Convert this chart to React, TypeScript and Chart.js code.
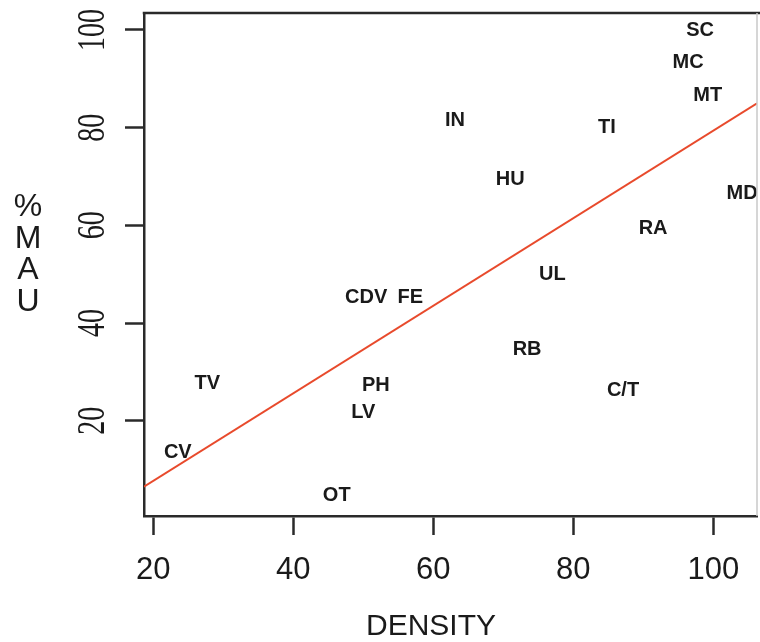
import React, { useEffect, useRef } from "react";
import { Chart, registerables } from "chart.js";

Chart.register(...registerables);

// ---- data ----
const siteCodes = ["SC", "MC", "MT", "IN", "TI", "HU", "MD", "RA", "UL", "FE", "CDV", "RB", "C/T", "PH", "LV", "TV", "CV", "OT"];
const densityValues = [98.1, 96.4, 99.2, 63.1, 84.8, 71.0, 104.1, 91.4, 77.0, 56.7, 50.4, 73.4, 87.1, 51.8, 50.0, 27.7, 23.5, 46.2];
const mauValues = [99.9, 93.3, 86.6, 81.4, 80.0, 69.3, 66.5, 59.3, 49.9, 45.2, 45.2, 34.5, 26.1, 27.2, 21.6, 27.7, 13.4, 4.6];

const fitLineX = [18.67, 106.24];
const fitLineY = [6.5, 85.0];

const xTickValues = [20, 40, 60, 80, 100];
const yTickValues = [20, 40, 60, 80, 100];
const xTitle = "DENSITY";
const yTitleLetters = ["%", "M", "A", "U"];

const X_MIN = 18.67;
const X_MAX = 106.24;
const Y_MIN = 0.49;
const Y_MAX = 103.48;

const AXIS_COLOR = "#2a2a2a";
const TEXT_COLOR = "#1a1a1a";
const SANS = '"Liberation Sans", Arial, Helvetica, sans-serif';
const SERIF = '"Liberation Serif", "Times New Roman", serif';

const overlayPlugin = {
  id: "overlay",
  afterDatasetsDraw(chart: any) {
    const ctx = chart.ctx;
    const meta = chart.getDatasetMeta(0);
    ctx.save();
    ctx.font = `bold 20px ${SANS}`;
    ctx.fillStyle = TEXT_COLOR;
    ctx.textAlign = "center";
    ctx.textBaseline = "middle";
    meta.data.forEach((el: any, i: number) => {
      ctx.fillText(siteCodes[i], el.x, el.y);
    });
    ctx.restore();
  },
  afterDraw(chart: any) {
    const ctx = chart.ctx;
    const { left, top, right, bottom } = chart.chartArea;
    ctx.save();
    // top of the box
    ctx.strokeStyle = AXIS_COLOR;
    ctx.lineWidth = 2.5;
    ctx.beginPath();
    ctx.moveTo(left - 1.25, top);
    ctx.lineTo(chart.width, top);
    ctx.stroke();
    // faint right edge
    ctx.strokeStyle = "#c8c8c8";
    ctx.lineWidth = 1.5;
    ctx.beginPath();
    ctx.moveTo(right, top);
    ctx.lineTo(right, bottom);
    ctx.stroke();

    // rotated y tick labels
    const yScale = chart.scales.y;
    ctx.fillStyle = TEXT_COLOR;
    ctx.font = `28px ${SERIF}`;
    ctx.textAlign = "center";
    ctx.textBaseline = "middle";
    yTickValues.forEach((v) => {
      const py = yScale.getPixelForValue(v);
      ctx.save();
      ctx.translate(93, py);
      ctx.rotate(-Math.PI / 2);
      ctx.scale(1, 1.45);
      ctx.fillText(String(v), 0, 0);
      ctx.restore();
    });

    // y axis title, stacked letters
    ctx.font = `32px ${SANS}`;
    ctx.textAlign = "center";
    ctx.textBaseline = "middle";
    const yMid = (top + bottom) / 2;
    yTitleLetters.forEach((ch, i) => {
      ctx.fillText(ch, 28, yMid - 57 + i * 31.5);
    });

    // x axis title
    ctx.font = `30px ${SANS}`;
    ctx.fillText(xTitle, 431, 627);
    ctx.restore();
  },
};

export default function App() {
  const canvasRef = useRef<HTMLCanvasElement | null>(null);

  useEffect(() => {
    if (!canvasRef.current) return;
    const points = densityValues.map((x, i) => ({ x, y: mauValues[i] }));
    const linePts = fitLineX.map((x, i) => ({ x, y: fitLineY[i] }));
    const chart = new Chart(canvasRef.current, {
      type: "scatter",
      data: {
        datasets: [
          {
            label: "sites",
            data: points,
            pointRadius: 0,
            pointHoverRadius: 0,
            showLine: false,
          },
          {
            label: "fit",
            type: "line",
            data: linePts,
            borderColor: "#e84a2c",
            borderWidth: 2,
            pointRadius: 0,
            fill: false,
            tension: 0,
          },
        ],
      },
      plugins: [overlayPlugin],
      options: {
        animation: false,
        responsive: false,
        events: [],
        layout: { padding: { left: 0, top: 13, right: 3, bottom: 0 } },
        plugins: {
          legend: { display: false },
          tooltip: { enabled: false },
          title: { display: false },
        },
        scales: {
          x: {
            type: "linear",
            min: X_MIN,
            max: X_MAX,
            afterBuildTicks: (axis: any) => {
              axis.ticks = xTickValues.map((v) => ({ value: v }));
            },
            afterFit: (axis: any) => {
              axis.height = 126;
            },
            border: { display: true, color: AXIS_COLOR, width: 2.5 },
            grid: {
              drawOnChartArea: false,
              drawTicks: true,
              tickLength: 19,
              tickColor: AXIS_COLOR,
              tickWidth: 2.5,
            },
            ticks: {
              autoSkip: false,
              maxRotation: 0,
              minRotation: 0,
              padding: 17,
              color: TEXT_COLOR,
              font: { family: SANS, size: 31 },
              callback: (v: any) => String(v),
            },
          },
          y: {
            type: "linear",
            min: Y_MIN,
            max: Y_MAX,
            afterBuildTicks: (axis: any) => {
              axis.ticks = yTickValues.map((v) => ({ value: v }));
            },
            afterFit: (axis: any) => {
              axis.width = 144;
            },
            border: { display: true, color: AXIS_COLOR, width: 2.5 },
            grid: {
              drawOnChartArea: false,
              drawTicks: true,
              tickLength: 19,
              tickColor: AXIS_COLOR,
              tickWidth: 2.5,
            },
            ticks: { display: false },
          },
        },
      },
    });
    return () => chart.destroy();
  }, []);

  return (
    <div style={{ position: "absolute", left: 0, top: 0, width: 760, height: 642, overflow: "hidden", background: "#fff" }}>
      <canvas ref={canvasRef} width={760} height={642} style={{ display: "block" }} />
    </div>
  );
}
